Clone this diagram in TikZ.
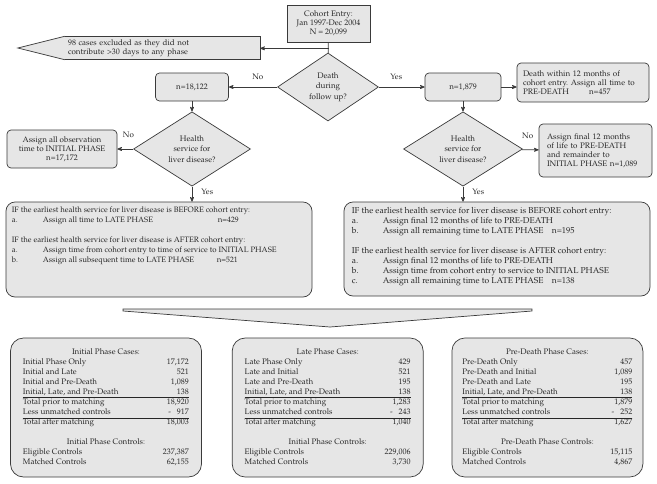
\documentclass[tikz,border=0pt]{standalone}
\usepackage[T1]{fontenc}
\usepackage{mathpazo}
\usepackage{xcolor}
\definecolor{boxFill}{HTML}{E6E6E6}
\definecolor{boxLine}{HTML}{3A3A3A}
\definecolor{textGray}{HTML}{262626}
\usepackage{tikz}
\usetikzlibrary{arrows, positioning, shapes.geometric}
\tikzset{
  flowbox/.style={draw=boxLine, fill=boxFill, rounded corners=4pt, line width=0.7pt, inner sep=2pt, font=\fontsize{8}{9}\selectfont, text=textGray},
  squarebox/.style={flowbox, rounded corners=0pt},
  question/.style={diamond, draw=boxLine, fill=boxFill, line width=0.7pt, inner sep=0pt, align=center, font=\fontsize{8}{10.5}\selectfont, text=textGray},
  bigbox/.style={flowbox, rounded corners=9pt},
  bigtext/.style={inner sep=0pt, align=left, font=\fontsize{7.8}{10}\selectfont, text=textGray},
  bigtextR/.style={bigtext, font=\fontsize{8.5}{10}\selectfont},
  tallybox/.style={flowbox, rounded corners=13pt, minimum width=191pt, minimum height=139pt, font=\fontsize{8}{10}\selectfont},
  answer/.style={font=\fontsize{8}{9}\selectfont, text=textGray, inner sep=1pt},
  link/.style={->, draw=boxLine, line width=0.7pt},
}
\newcommand{\rowlabel}[1]{\makebox[31pt][l]{#1}}
\frenchspacing

\begin{document}
\begin{tikzpicture}[x=1pt, y=-1pt, >=stealth']
\useasboundingbox (0,0) rectangle (657,483);

% cohort and exclusions
\node[squarebox, align=center, minimum width=83pt, minimum height=37pt] (cohort) at (328.5,23.5) {Cohort Entry:\\Jan 1997-Dec 2004\\N = 20,099};
\node[question, minimum width=101pt, minimum height=68pt] (death) at (328,87) {Death\\during\\follow up?};
\coordinate[below=6pt of cohort.south] (split);
\node[fill=boxFill, inner sep=3pt, text width=189pt, minimum height=19pt, align=left, font=\fontsize{8}{9}\selectfont, text=textGray] (excl) at (162.5,48) {98 cases excluded as they did not\\contribute >30 days to any phase};
\filldraw[fill=boxFill, draw=boxLine, line width=0.7pt] (excl.north west) -- ([xshift=-47pt]excl.west) -- (excl.south west);
\draw[boxLine, line width=0.7pt] (excl.north west) -- (excl.north east) -- (excl.south east) -- (excl.south west);
\draw[boxLine, line width=0.7pt] (cohort) -- (death);
\draw[link] (split) -- (split -| excl.east);

% no death branch
\node[flowbox, minimum width=73pt, minimum height=28pt] (noDeath) at (192,87) {n=18,122};
\node[question, minimum width=117pt, minimum height=66pt] (liverL) at (192,149) {Health\\service for\\liver disease?};
\node[flowbox, align=center, minimum width=110pt, minimum height=38pt] (initialOnly) at (62,149) {Assign all observation\\time to INITIAL PHASE\\n=17,172};
\node[bigbox, minimum width=306pt, minimum height=95pt] (bigL) at (159,249.5) {};
\node[bigtext, below right=5pt and 6pt of bigL.north west] (bigLtext) {%
IF the earliest health service for liver disease is BEFORE cohort entry:\\
\rowlabel{a.}\makebox[175pt][l]{Assign all time to LATE PHASE}n=429\\[10pt]
IF the earliest health service for liver disease is AFTER cohort entry:\\
\rowlabel{a.}Assign time from cohort entry to time of service to INITIAL PHASE\\
\rowlabel{b.}\makebox[174pt][l]{Assign all subsequent time to LATE PHASE}n=521};

\draw[link] (death) -- node[answer, above=6pt, pos=0.4] {No} (noDeath);
\draw[link] (noDeath) -- (liverL);
\draw[link] (liverL) -- node[answer, above=10pt, pos=0.3] {No} (initialOnly);
\draw[link] (liverL.south) -- node[answer, right=8pt, pos=0.35] {Yes} (liverL.south |- bigL.north);

% death branch
\node[flowbox, minimum width=76pt, minimum height=28pt] (yesDeath) at (463,87) {n=1,879};
\node[flowbox, text width=120pt, inner sep=6pt, minimum height=39pt, align=left] (earlyDeath) at (583,82.5) {Death within 12 months of\\cohort entry. Assign all time to\\PRE-DEATH\hspace{20pt}n=457};
\node[question, minimum width=119pt, minimum height=66pt] (liverR) at (463,149) {Health\\service for\\liver disease?};
\node[flowbox, text width=97pt, inner sep=8pt, minimum height=53pt, align=left] (preDeathOnly) at (595.5,150.5) {Assign final 12 months\\of life to PRE-DEATH\\and remainder to\\INITIAL PHASE n=1,089};
\node[bigbox, minimum width=306pt, minimum height=94pt] (bigR) at (497,249) {};
\node[bigtextR, below right=5pt and 8pt of bigR.north west] (bigRtext) {%
IF the earliest health service for liver disease is BEFORE cohort entry:\\
\rowlabel{a.}Assign final 12 months of life to PRE-DEATH\\
\rowlabel{b.}\makebox[169pt][l]{Assign all remaining time to LATE PHASE}n=195\\[10pt]
IF the earliest health service for liver disease is AFTER cohort entry:\\
\rowlabel{a.}Assign final 12 months of life to PRE-DEATH\\
\rowlabel{b.}Assign time from cohort entry to service to INITIAL PHASE\\
\rowlabel{c.}\makebox[169pt][l]{Assign all remaining time to LATE PHASE}n=138};

\draw[link] (death) -- node[answer, above=6pt, pos=0.38] {Yes} (yesDeath);
\draw[link] (yesDeath.east) -- (yesDeath.east -| earlyDeath.west);
\draw[link] (yesDeath) -- (liverR);
\draw[link] (liverR) -- node[answer, above=10pt, pos=0.35] {No} (preDeathOnly);
\draw[link] (liverR.south) -- node[answer, right=8pt, pos=0.35] {Yes} (liverR.south |- bigR.north);

% summary
\filldraw[fill=boxFill, draw=boxLine, line width=0.7pt] (123,309) -- (532,309) -- (532,311) -- (330,327) -- (123,311) -- cycle;

\node[tallybox] (casesI) at (106,407.5) {%
\begin{tabular}{@{}p{128pt}r@{}}
\multicolumn{2}{c}{Initial Phase Cases:}\\
Initial Phase Only & 17,172\\
Initial and Late & 521\\
Initial and Pre-Death & 1,089\\
Initial, Late, and Pre-Death & 138\\ \hline
Total prior to matching & 18,920\\
Less unmatched controls & -\hspace{6pt}917\\ \hline
Total after matching & 18,003\\[10pt]
\multicolumn{2}{c}{Initial Phase Controls:}\\
Eligible Controls & 237,387\\
Matched Controls & 62,155
\end{tabular}};
\node[tallybox, right=30pt of casesI] (casesL) {%
\begin{tabular}{@{}p{128pt}r@{}}
\multicolumn{2}{c}{Late Phase Cases:}\\
Late Phase Only & 429\\
Late and Initial & 521\\
Late and Pre-Death & 195\\
Initial, Late, and Pre-Death & 138\\ \hline
Total prior to matching & 1,283\\
Less unmatched controls & -\hspace{6pt}243\\ \hline
Total after matching & 1,040\\[10pt]
\multicolumn{2}{c}{Initial Phase Controls:}\\
Eligible Controls & 229,006\\
Matched Controls & 3,730
\end{tabular}};
\node[tallybox, right=28pt of casesL] (casesP) {%
\begin{tabular}{@{}p{136pt}r@{}}
\multicolumn{2}{c}{Pre-Death Phase Cases:}\\
Pre-Death Only & 457\\
Pre-Death and Initial & 1,089\\
Pre-Death and Late & 195\\
Initial, Late, and Pre-Death & 138\\ \hline
Total prior to matching & 1,879\\
Less unmatched controls & -\hspace{6pt}252\\ \hline
Total after matching & 1,627\\[10pt]
\multicolumn{2}{c}{Pre-Death Phase Controls:}\\
Eligible Controls & 15,115\\
Matched Controls & 4,867
\end{tabular}};
\end{tikzpicture}
\end{document}
